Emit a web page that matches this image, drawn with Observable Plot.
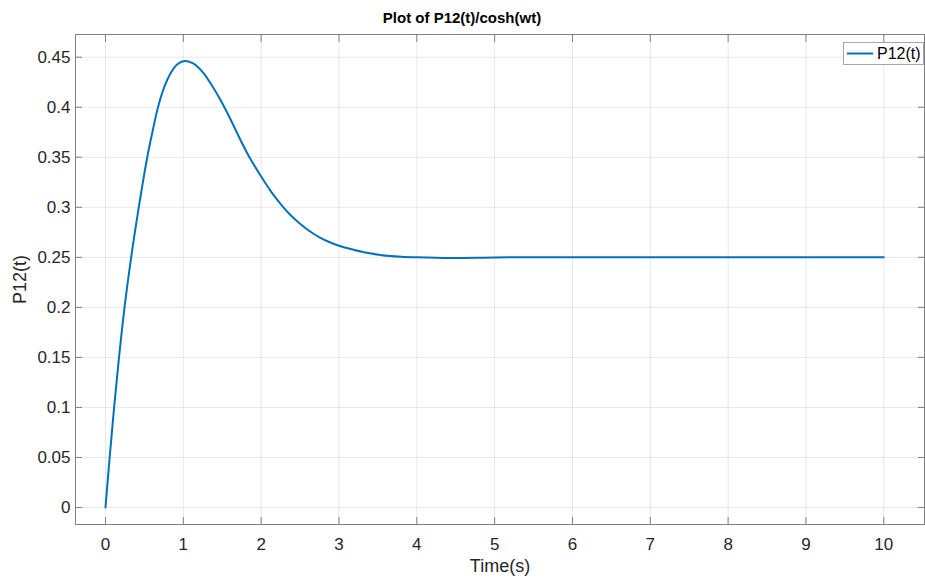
<!DOCTYPE html>
<html>
<head>
<meta charset="utf-8">
<script src="https://cdn.jsdelivr.net/npm/d3@7"></script>
<script src="https://cdn.jsdelivr.net/npm/@observablehq/plot@0.6"></script>
<style>
  html, body { margin: 0; padding: 0; background: #fff; }
  body { width: 925px; height: 581px; position: relative; overflow: hidden; font-family: "Liberation Sans", Arial, sans-serif; }
  #title { position: relative; width: 925px; height: 33px; }
  #title span { position: absolute; left: 462px; top: 10px; transform: translateX(-50%); font-weight: bold; font-size: 15px; line-height: 16px; color: #000; white-space: nowrap; }
  #legend { position: absolute; left: 843px; top: 42px; width: 79px; height: 21px; border: 1px solid #a6a6a6; background: #fff; }
  #legend svg { position: absolute; left: 0; top: 0; }
  #legend span { position: absolute; left: 33px; top: 2px; font-size: 16px; line-height: 18px; color: #000; white-space: nowrap; }
</style>
</head>
<body>
<div id="title"><span>Plot of P12(t)/cosh(wt)</span></div>
<div id="chart"></div>
<div id="legend"><svg width="32" height="21"><line x1="3" x2="29" y1="10.5" y2="10.5" stroke="#0072BD" stroke-width="2"/></svg><span>P12(t)</span></div>
<script>
// Time samples (s) and P12(t)/cosh(wt) values
const timeS = [0, 0.054, 0.111, 0.174, 0.245, 0.330, 0.428, 0.537, 0.600, 0.675, 0.760, 0.835, 0.920, 1.015, 1.12, 1.20, 1.26, 1.35, 1.48, 1.60, 1.73, 1.85, 1.99, 2.13, 2.27, 2.38, 2.50, 2.62, 2.75, 2.89, 3.0, 3.2, 3.36, 3.55, 3.8, 4.0, 4.43, 5.0, 5.5, 6, 7, 8, 9, 10];
const p12 = [0, 0.05, 0.10, 0.15, 0.20, 0.25, 0.30, 0.35, 0.374, 0.40, 0.421, 0.4337, 0.4428, 0.4463, 0.4440, 0.4393, 0.434, 0.424, 0.407, 0.389, 0.368, 0.350, 0.332, 0.3155, 0.3015, 0.2920, 0.2835, 0.2763, 0.2700, 0.2648, 0.2616, 0.2574, 0.2545, 0.2522, 0.2507, 0.2501, 0.2494, 0.2499, 0.2501, 0.2501, 0.25, 0.25, 0.25, 0.25];

const xTicks = [0, 1, 2, 3, 4, 5, 6, 7, 8, 9, 10];
const xTickLabels = ["0", "1", "2", "3", "4", "5", "6", "7", "8", "9", "10"];
const yTicks = [0, 0.05, 0.1, 0.15, 0.2, 0.25, 0.3, 0.35, 0.4, 0.45];
const yTickLabels = ["0", "0.05", "0.1", "0.15", "0.2", "0.25", "0.3", "0.35", "0.4", "0.45"];

const xLabel = "Time(s)";
const yLabel = "P12(t)";

const series = timeS.map((t, i) => ({t, p: p12[i]}));

const axisGray = "#808080";
const textColor = "#262626";

const chart = Plot.plot({
  width: 925,
  height: 548,
  marginLeft: 75,
  marginRight: 1,
  marginTop: 1,
  marginBottom: 57,
  style: {fontFamily: "'Liberation Sans', Arial, sans-serif", background: "#fff"},
  x: {domain: [-0.385, 10.523], ticks: xTicks},
  y: {domain: [-0.017, 0.4727], ticks: yTicks},
  marks: [
    Plot.gridX(xTicks, {stroke: "#000", strokeOpacity: 0.09}),
    Plot.gridY(yTicks, {stroke: "#000", strokeOpacity: 0.09}),
    Plot.line(series, {x: "t", y: "p", stroke: "#0072BD", strokeWidth: 2, curve: "catmull-rom"}),
    Plot.frame({stroke: axisGray}),
    // inward tick marks on all four sides
    Plot.axisX(xTicks, {anchor: "bottom", tickSize: -7, tickFormat: () => "", label: null, color: axisGray}),
    Plot.axisX(xTicks, {anchor: "top", tickSize: -7, tickFormat: () => "", label: null, color: axisGray}),
    Plot.axisY(yTicks, {anchor: "left", tickSize: -7, tickFormat: () => "", label: null, color: axisGray}),
    Plot.axisY(yTicks, {anchor: "right", tickSize: -7, tickFormat: () => "", label: null, color: axisGray}),
    // tick labels
    Plot.axisX(xTicks, {anchor: "bottom", tickSize: 0, tickPadding: 13, tickFormat: (d, i) => xTickLabels[i], label: null, color: textColor, fontSize: 17}),
    Plot.axisY(yTicks, {anchor: "left", tickSize: 0, tickPadding: 5, tickFormat: (d, i) => yTickLabels[i], label: null, color: textColor, fontSize: 17}),
    // axis titles
    Plot.text([xLabel], {text: d => d, frameAnchor: "bottom", dy: 42, fontSize: 18, fill: textColor, lineAnchor: "middle"}),
    Plot.text([yLabel], {text: d => d, frameAnchor: "left", dx: -55, rotate: -90, fontSize: 18, fill: textColor, lineAnchor: "middle", textAnchor: "middle"})
  ]
});
document.getElementById("chart").appendChild(chart);
</script>
</body>
</html>
